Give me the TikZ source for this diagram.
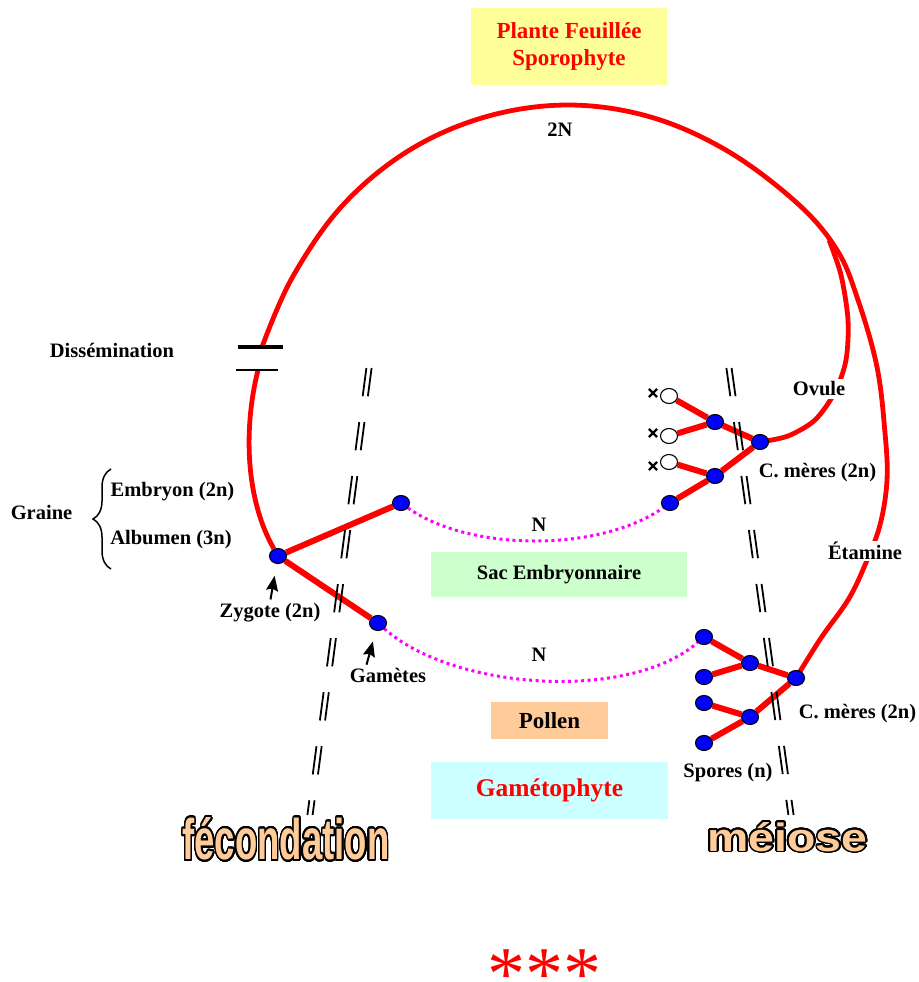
\documentclass[tikz,border=0pt]{standalone}
\usepackage{fontspec}
\setmainfont{Liberation Serif}
\setsansfont{Liberation Sans}
\usepackage{graphicx}
\usepackage{contour}
\contourlength{1.5pt}
\contournumber{32}
\usetikzlibrary{shapes.geometric,shapes.misc,arrows.meta,backgrounds,decorations.pathreplacing}
\definecolor{jaune}{HTML}{FFFF99}
\definecolor{vertpale}{HTML}{CCFFCC}
\definecolor{peche}{HTML}{FFCC99}
\definecolor{cyanpale}{HTML}{CCFFFF}
\definecolor{rouge}{HTML}{FF0000}
\definecolor{bleu}{HTML}{0000FF}
\definecolor{rose}{HTML}{FF00FF}
\tikzset{
  lbl/.style={font=\fontsize{20.5}{24}\selectfont\bfseries, inner sep=1pt},
  boite/.style={lbl, inner sep=0pt, align=center},
  cell/.style={ellipse, draw=black, line width=1.1pt, fill=bleu, minimum width=17pt, minimum height=15pt, inner sep=0pt},
  morte/.style={cell, fill=white},
  croix/.style={cross out, draw=black, line width=2.2pt, minimum size=6pt, inner sep=0pt},
  arcrouge/.style={rouge, line width=4.8pt},
  rameau/.style={rouge, line width=6pt},
  haplo/.style={rose, line width=3pt, dash pattern=on 3pt off 3.5pt},
  barriere/.style={black, line width=1.8pt, dash pattern=on 28.5pt off 26pt},
  fleche/.style={line width=2pt, arrows={-Stealth[length=15pt,width=12pt,inset=2pt]}}
}
\begin{document}
\begin{tikzpicture}[x=1pt,y=-1pt]
\useasboundingbox (0,0) rectangle (918,982);
\node[boite, fill=jaune, text=rouge, minimum width=196pt, minimum height=77pt, font=\fontsize{23}{27}\selectfont\bfseries] (plante) at (569,46.5) {Plante Feuillée\\Sporophyte};
\node[boite, fill=vertpale, minimum width=256pt, minimum height=45pt] (sac) at (559,574.5) {Sac Embryonnaire};
\node[boite, fill=peche, minimum width=117pt, minimum height=37pt, font=\fontsize{23}{27}\selectfont\bfseries] (pollen) at (549.5,720.5) {Pollen};
\node[boite, fill=cyanpale, text=rouge, minimum width=237pt, minimum height=57pt, font=\fontsize{25.5}{30}\selectfont\bfseries] (gameto) at (549.5,790.5) {Gamétophyte};
\foreach \n/\x/\y in {zyg/278/556, oeuf/401/503, gam/378/623, cmo/760/442, o1/715/422, o2/715/476, o4/670/503, cmp/796/678, p1/750/663, p2/750/717, s1/704/637, s2/704/677, s3/704/703, s4/704/743}
  \node[cell] (\n) at (\x,\y) {};
\foreach \n/\y in {w1/396, w2/436, w3/462} \node[morte] (\n) at (669,\y) {};
\foreach \n/\y in {x1/393, x2/433, x3/466} \node[croix] (\n) at (653,\y) {};
\node[lbl] (diss) at (112,350) {Dissémination};
\node[lbl] (graine) at (41.5,512) {Graine};
\node[lbl] (emb) at (172.5,492) {Embryon (2n)};
\node[lbl] (alb) at (171,540) {Albumen (3n)};
\node[lbl] (deuxN) at (560,130) {2N};
\node[lbl] (Nhaut) at (539,525) {N};
\node[lbl] (Nbas) at (539,655) {N};
\node[lbl] (zyglab) at (270,613) {Zygote (2n)};
\node[lbl] (gamlab) at (388,675) {Gamètes};
\node[lbl, fill=white, inner sep=3pt] (ovule) at (819,389) {Ovule};
\node[lbl] (cmolab) at (817.5,473) {C. mères (2n)};
\node[lbl, fill=white] (etam) at (865,551) {Étamine};
\node[lbl] (cmplab) at (857.5,714) {C. mères (2n)};
\node[lbl] (spores) at (728,773) {Spores (n)};
\node[inner sep=0pt] (fec) at (286,840) {\resizebox{207pt}{42pt}{\fontsize{40}{40}\sffamily\bfseries\color{peche}\contour{black}{fécondation}}};
\node[inner sep=0pt] (mei) at (787.5,837.5) {\resizebox{160pt}{29pt}{\fontsize{40}{40}\sffamily\bfseries\color{peche}\contour{black}{méiose}}};
\node[text=rouge, font=\fontsize{76}{76}\selectfont, inner sep=0pt, anchor=south] (etoiles) at (544,981) {\raisebox{-0.25em}[0.45em][0pt]{***}};
\coordinate (dl) at (258,370);
\coordinate (du) at (262,347);
\coordinate (bb) at (111,569);
\coordinate (bh) at (111,469);
\coordinate (fa) at (369,368);
\coordinate (fb) at (310,815);
\coordinate (ma) at (729,368);
\coordinate (mb) at (791,815);
\begin{scope}[on background layer]
\draw[arcrouge] (zyg) .. controls (246,500) and (243,430) .. (dl);
\draw[arcrouge] plot[smooth, tension=0.6] coordinates {(du) (292,278) (342,206) (408,151) (485,117) (568,105) (650.6,117) (727.5,151) (797,203) (837,250) (858,300) (877,367) (885,433) (887,480) (880,525) (865,565) (848,600) (821,638) (cmp)};
\draw[arcrouge] plot[smooth] coordinates {(829,240) (841,275) (848,320) (846,360) (835,392) (815,420) (788,436) (cmo)};
\foreach \a/\b in {zyg/oeuf, zyg/gam, cmo/o1, cmo/o2, o1/w1, o1/w2, o2/w3, o2/o4, cmp/p1, cmp/p2, p1/s1, p1/s2, p2/s3, p2/s4}
  \draw[rameau] (\a) -- (\b);
\draw[haplo] (oeuf) .. controls (470,552) and (600,552) .. (o4);
\draw[haplo] (gam) .. controls (453,690) and (629,702) .. (s1);
\end{scope}
\draw[line width=3.3pt] (238,347) -- (283,347);
\draw[line width=2pt] (236,370) -- (278,370);
\draw[line width=1.5pt, decorate, decoration={brace, amplitude=18pt}] (bb) -- (bh);
\foreach \d in {-2.6,2.6} {\draw[barriere] ([xshift=\d pt]fa) -- ([xshift=\d pt]fb); \draw[barriere] ([xshift=\d pt]ma) -- ([xshift=\d pt]mb);}
\draw[fleche, shorten <=3pt, shorten >=12pt] (zyglab.north) -- (zyg);
\draw[fleche, shorten <=2pt, shorten >=11pt] ([xshift=-22pt]gamlab.north) -- (gam);
\end{tikzpicture}
\end{document}
